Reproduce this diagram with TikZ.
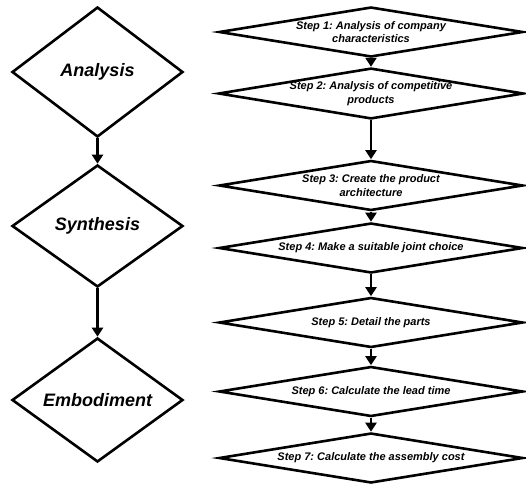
\documentclass[tikz,border=0pt]{standalone}
\usepackage{fontspec}
\setmainfont{Liberation Sans}
\usetikzlibrary{shapes.geometric,arrows.meta}
\frenchspacing

\tikzset{
  phase/.style={shape=diamond, draw=black, line width=2.6pt, fill=white,
    inner sep=0pt, aspect=1.3, minimum width=171pt,
    font=\fontsize{18}{21}\selectfont\bfseries\itshape},
  stepbox/.style={shape=diamond, draw=black, line width=2.6pt, fill=white,
    inner sep=0pt, aspect=6, minimum width=304pt, minimum height=50pt,
    align=center, font=\fontsize{11}{13.5}\selectfont\bfseries\itshape},
  flow/.style={line width=2.6pt, -{Triangle[width=11pt,length=9pt]}}
}

\begin{document}
\begin{tikzpicture}[x=1pt, y=-1pt]
  \useasboundingbox (0,0) rectangle (526,485);

  % design phases
  \node[phase, minimum height=130pt] (ana) at (97.5,72) {Analysis};
  \node[phase, minimum height=122pt] (syn) at (97.5,226) {Synthesis};
  \node[phase, minimum height=124pt] (emb) at (97.5,400) {Embodiment};

  % detailed steps
  \node[stepbox] (s1) at (371,32)   {Step 1: Analysis of company\\characteristics};
  \node[stepbox] (s2) at (371,93.5) {Step 2: Analysis of competitive\\products};
  \node[stepbox] (s3) at (371,185.5){Step 3: Create the product\\architecture};
  \node[stepbox] (s4) at (371,248)  {Step 4: Make a suitable joint choice};
  \node[stepbox] (s5) at (371,322.5){Step 5: Detail the parts};
  \node[stepbox] (s6) at (371,391.5){Step 6: Calculate the lead time};
  \node[stepbox] (s7) at (371,458)  {Step 7: Calculate the assembly cost};

  % connectors
  \draw[flow] (ana.south) -- (syn.north);
  \draw[flow] (syn.south) -- (emb.north);
  \foreach \a/\b in {s1/s2, s2/s3, s3/s4, s4/s5, s5/s6, s6/s7}
    \draw[flow] (\a.south) -- (\b.north);
\end{tikzpicture}
\end{document}
